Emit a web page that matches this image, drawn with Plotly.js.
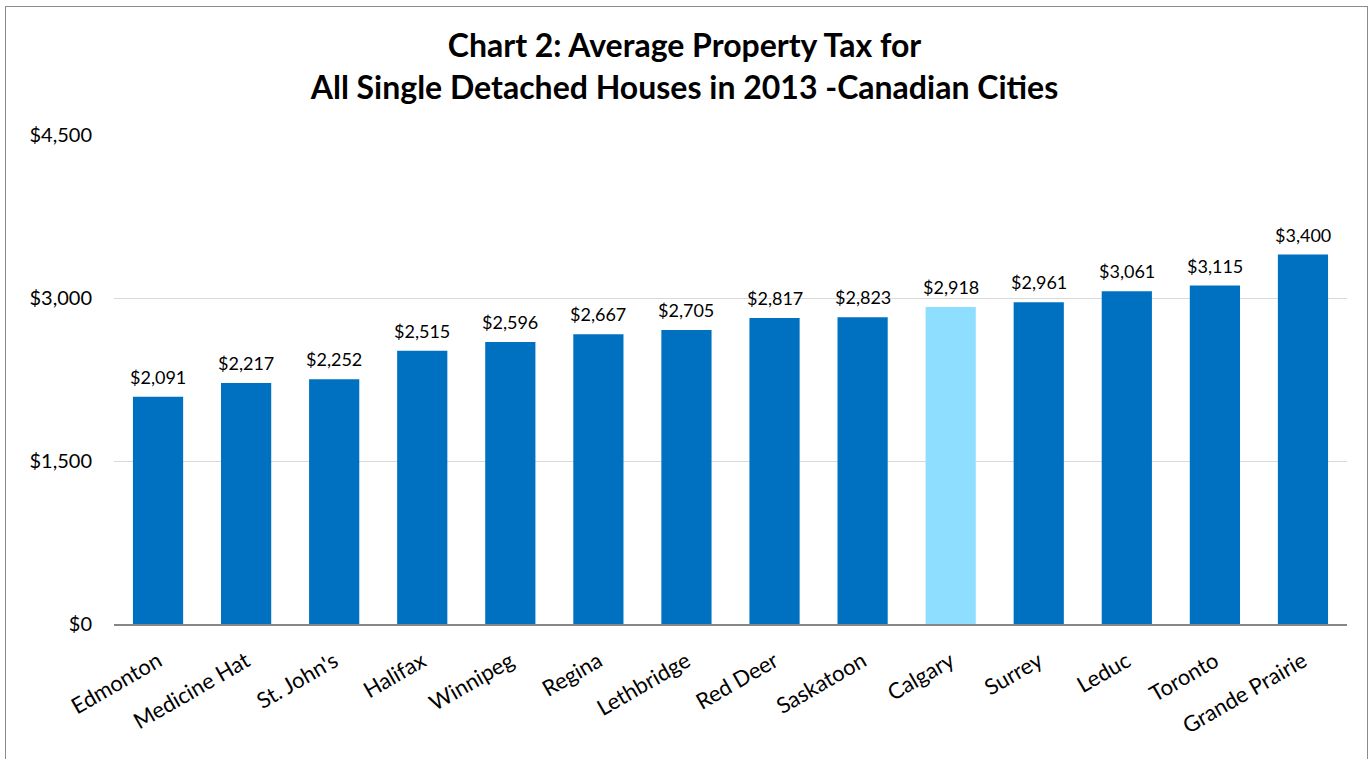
<!DOCTYPE html>
<html>
<head>
<meta charset="utf-8">
<script src="https://cdn.plot.ly/plotly-3.0.1.min.js"></script>
<style>
html,body{margin:0;padding:0;background:#fff;}
#chart{width:1369px;height:759px;}
#frame{position:absolute;left:5px;top:6px;width:1361px;height:800px;border:1px solid #8c8c8c;pointer-events:none;}
</style>
</head>
<body>
<div id="chart"></div>
<div id="frame"></div>
<script>
const cities = ["Edmonton","Medicine Hat","St. John's","Halifax","Winnipeg","Regina","Lethbridge","Red Deer","Saskatoon","Calgary","Surrey","Leduc","Toronto","Grande Prairie"];
const taxes = [2091,2217,2252,2515,2596,2667,2705,2817,2823,2918,2961,3061,3115,3400];
const highlightCity = "Calgary";
const tickVals = [0,1500,3000,4500];
const tickText = ["$0","$1,500","$3,000","$4,500"];

const colors = cities.map(c => c === highlightCity ? "#8EDFFF" : "#0070C0");
const labels = taxes.map(v => "$" + v.toLocaleString("en-US"));

const font = "Lato, 'Open Sans', sans-serif";

const annotations = cities.map((c, i) => ({
  x: c, y: taxes[i], xref: "x", yref: "y",
  text: labels[i], showarrow: false,
  yanchor: "bottom", yshift: 7,
  font: {family: font, size: 18, color: "#000"}
}));

Plotly.newPlot("chart", [{
  type: "bar",
  x: cities,
  y: taxes,
  marker: {color: colors},
  hoverinfo: "none"
}], {
  width: 1369, height: 759,
  margin: {l: 114, r: 22, t: 135, b: 135},
  paper_bgcolor: "#fff", plot_bgcolor: "#fff",
  bargap: 0.43,
  showlegend: false,
  annotations: annotations,
  title: {
    text: "<b>Chart 2: Average Property Tax for<br>All Single Detached Houses in 2013 -Canadian Cities</b>",
    font: {family: font, size: 32, color: "#000"},
    x: 0.5, xanchor: "center", y: 0.925, yanchor: "top"
  },
  xaxis: {
    tickangle: -30,
    tickfont: {family: font, size: 22, color: "#000"},
    showline: true, linecolor: "#868686", linewidth: 2,
    ticks: "", showgrid: false,
    ticklabelstandoff: 14
  },
  yaxis: {
    range: [0, 4500],
    tickvals: tickVals, ticktext: tickText,
    tickfont: {family: font, size: 20, color: "#000"},
    gridcolor: "#D9D9D9", gridwidth: 1,
    zeroline: false, showline: false, ticks: "",
    ticklabelstandoff: 21
  }
}, {displayModeBar: false, staticPlot: true});
</script>
</body>
</html>
